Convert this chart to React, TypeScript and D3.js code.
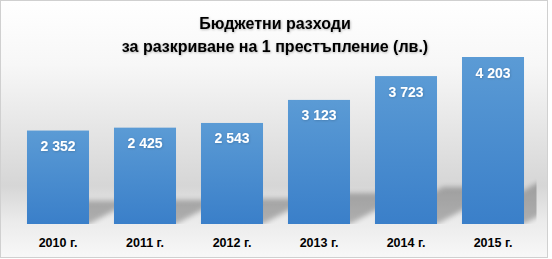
import React from "react";
import * as d3 from "d3";

const categories = ["2010 г.", "2011 г.", "2012 г.", "2013 г.", "2014 г.", "2015 г."];
const values = [2352, 2425, 2543, 3123, 3723, 4203];
const valueLabels = ["2 352", "2 425", "2 543", "3 123", "3 723", "4 203"];
const titleLines = ["Бюджетни разходи", "за разкриване на 1 престъпление (лв.)"];

const W = 552;
const H = 259;
const FONT = "'Liberation Sans', Arial, sans-serif";

export default function App() {
  const x = d3
    .scaleBand<string>()
    .domain(categories)
    .range([14.5, 536.5])
    .paddingInner(0.287)
    .paddingOuter(0.1435);
  const y = d3.scaleLinear().domain([0, 4500]).range([224, 45.2]);
  const base = y(0);

  return (
    <svg
      width={W}
      height={H}
      style={{ position: "fixed", left: 0, top: 0, display: "block" }}
      xmlns="http://www.w3.org/2000/svg"
    >
      <defs>
        <linearGradient id="bg" x1="0" y1="0" x2="0" y2="1">
          <stop offset="0" stopColor="#ffffff" />
          <stop offset="0.25" stopColor="#f7f7f7" />
          <stop offset="0.72" stopColor="#d6d6d6" />
          <stop offset="0.86" stopColor="#ebebeb" />
          <stop offset="1" stopColor="#f8f8f8" />
        </linearGradient>
        <linearGradient id="bar" x1="0" y1="0" x2="0" y2="1">
          <stop offset="0" stopColor="#5b9bd5" />
          <stop offset="1" stopColor="#3a7fc9" />
        </linearGradient>
        <filter id="blur" x="-20%" y="-20%" width="140%" height="140%">
          <feGaussianBlur stdDeviation="2.5" />
        </filter>
        <filter id="tshadow" x="-10%" y="-30%" width="120%" height="160%">
          <feDropShadow dx="0.6" dy="0.8" stdDeviation="1" floodColor="#000" floodOpacity="0.3" />
        </filter>
        <filter id="vshadow" x="-10%" y="-30%" width="120%" height="160%">
          <feDropShadow dx="0.5" dy="0.6" stdDeviation="0.8" floodColor="#000" floodOpacity="0.2" />
        </filter>
        <clipPath id="plotClip">
          <rect x={14.5} y={30} width={522} height={base - 30} />
        </clipPath>
      </defs>
      <rect x={0.5} y={0.5} width={547} height={257} fill="url(#bg)" stroke="#d0d0d0" />
      <g clipPath="url(#plotClip)">
        {values.map((v, i) => {
          const x0 = x(categories[i])!;
          const x1 = x0 + x.bandwidth();
          const h = base - y(v);
          const sh = 0.25 * h;
          const dx = 0.46 * h;
          const pts = [
            [x0, base],
            [x1, base],
            [x1 + dx, base - sh],
            [x0 + dx, base - sh],
          ];
          return (
            <polygon
              key={"s" + i}
              points={pts.map((p) => p.join(",")).join(" ")}
              fill="#000"
              opacity={0.26}
              filter="url(#blur)"
            />
          );
        })}
      </g>
      {values.map((v, i) => (
        <rect
          key={"b" + i}
          x={x(categories[i])!}
          y={y(v)}
          width={x.bandwidth()}
          height={base - y(v)}
          fill="url(#bar)"
        />
      ))}
      {values.map((v, i) => (
        <text
          key={"v" + i}
          x={x(categories[i])! + x.bandwidth() / 2}
          y={y(v) + 20.5}
          textAnchor="middle"
          fontFamily={FONT}
          fontWeight="bold"
          fontSize={14}
          fill="#ffffff"
          filter="url(#vshadow)"
        >
          {valueLabels[i]}
        </text>
      ))}
      {categories.map((c) => (
        <text
          key={c}
          x={x(c)! + x.bandwidth() / 2}
          y={247}
          textAnchor="middle"
          fontFamily={FONT}
          fontWeight="bold"
          fontSize={12.5}
          fill="#000000"
        >
          {c}
        </text>
      ))}
      {titleLines.map((t, i) => (
        <text
          key={t}
          x={275}
          y={28.5 + i * 23}
          textAnchor="middle"
          fontFamily={FONT}
          fontWeight="bold"
          fontSize={16}
          fill="#000000"
          filter="url(#tshadow)"
        >
          {t}
        </text>
      ))}
    </svg>
  );
}
